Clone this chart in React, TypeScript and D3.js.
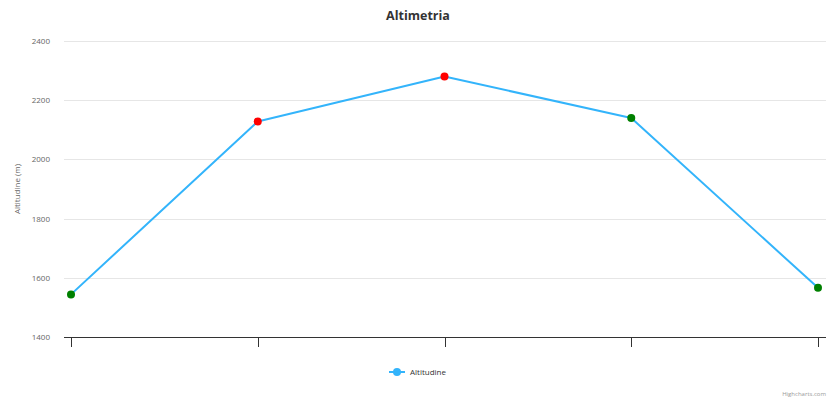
import React from "react";
import * as d3 from "d3";

const categories = ["P1", "P2", "P3", "P4", "P5"];
const altitudes = [1544, 2128, 2280, 2140, 1566];
const pointColors = ["#008000", "#ff0000", "#ff0000", "#008000", "#008000"];
const yTicks = [1400, 1600, 1800, 2000, 2200, 2400];
const seriesName = "Altitudine";

const W = 836;
const H = 400;
const font = "'Open Sans', 'DejaVu Sans', sans-serif";

export default function App() {
  const plotLeft = 64;
  const plotRight = 826;
  const plotTop = 41;
  const plotBottom = 337;
  const x = d3.scaleLinear().domain([0, categories.length - 1]).range([71, 818]);
  const y = d3.scaleLinear().domain([1400, 2400]).range([plotBottom, plotTop]);
  const line = d3
    .line<number>()
    .x((_, i) => x(i))
    .y((d) => y(d));
  const lineColor = "#33b4fb";
  return (
    <svg width={W} height={H} style={{ display: "block", position: "absolute", left: 0, top: 0 }} fontFamily={font}>
      <rect width={W} height={H} fill="#fff" />
      <text x={W / 2} y={20} textAnchor="middle" fontSize={12.5} fontWeight="bold" fill="#333">
        Altimetria
      </text>
      {yTicks.map((t) => (
        <g key={t}>
          {t !== 1400 && (
            <line x1={plotLeft} x2={plotRight} y1={Math.round(y(t)) + 0.5} y2={Math.round(y(t)) + 0.5} stroke="#e6e6e6" />
          )}
          <text x={50} y={y(t) + 3} textAnchor="end" fontSize={8} fill="#666">
            {t}
          </text>
        </g>
      ))}
      <text
        transform={`translate(20,${(plotTop + plotBottom) / 2}) rotate(-90)`}
        textAnchor="middle"
        fontSize={8}
        fill="#666"
      >
        Altitudine (m)
      </text>
      <line x1={plotLeft} x2={plotRight} y1={plotBottom + 0.5} y2={plotBottom + 0.5} stroke="#333" />
      {categories.map((c, i) => (
        <line key={c} x1={Math.round(x(i)) + 0.5} x2={Math.round(x(i)) + 0.5} y1={plotBottom} y2={plotBottom + 10} stroke="#333" />
      ))}
      <path d={line(altitudes) || ""} fill="none" stroke={lineColor} strokeWidth={2} strokeLinejoin="round" />
      {altitudes.map((v, i) => (
        <circle key={i} cx={x(i)} cy={y(v)} r={4} fill={pointColors[i]} />
      ))}
      <g>
        <line x1={389} x2={405} y1={372} y2={372} stroke={lineColor} strokeWidth={2} />
        <circle cx={397} cy={372} r={4} fill={lineColor} />
        <text x={410} y={375} fontSize={8} fill="#333">
          {seriesName}
        </text>
      </g>
      <text x={826} y={396} textAnchor="end" fontSize={6} fill="#999">
        Highcharts.com
      </text>
    </svg>
  );
}
